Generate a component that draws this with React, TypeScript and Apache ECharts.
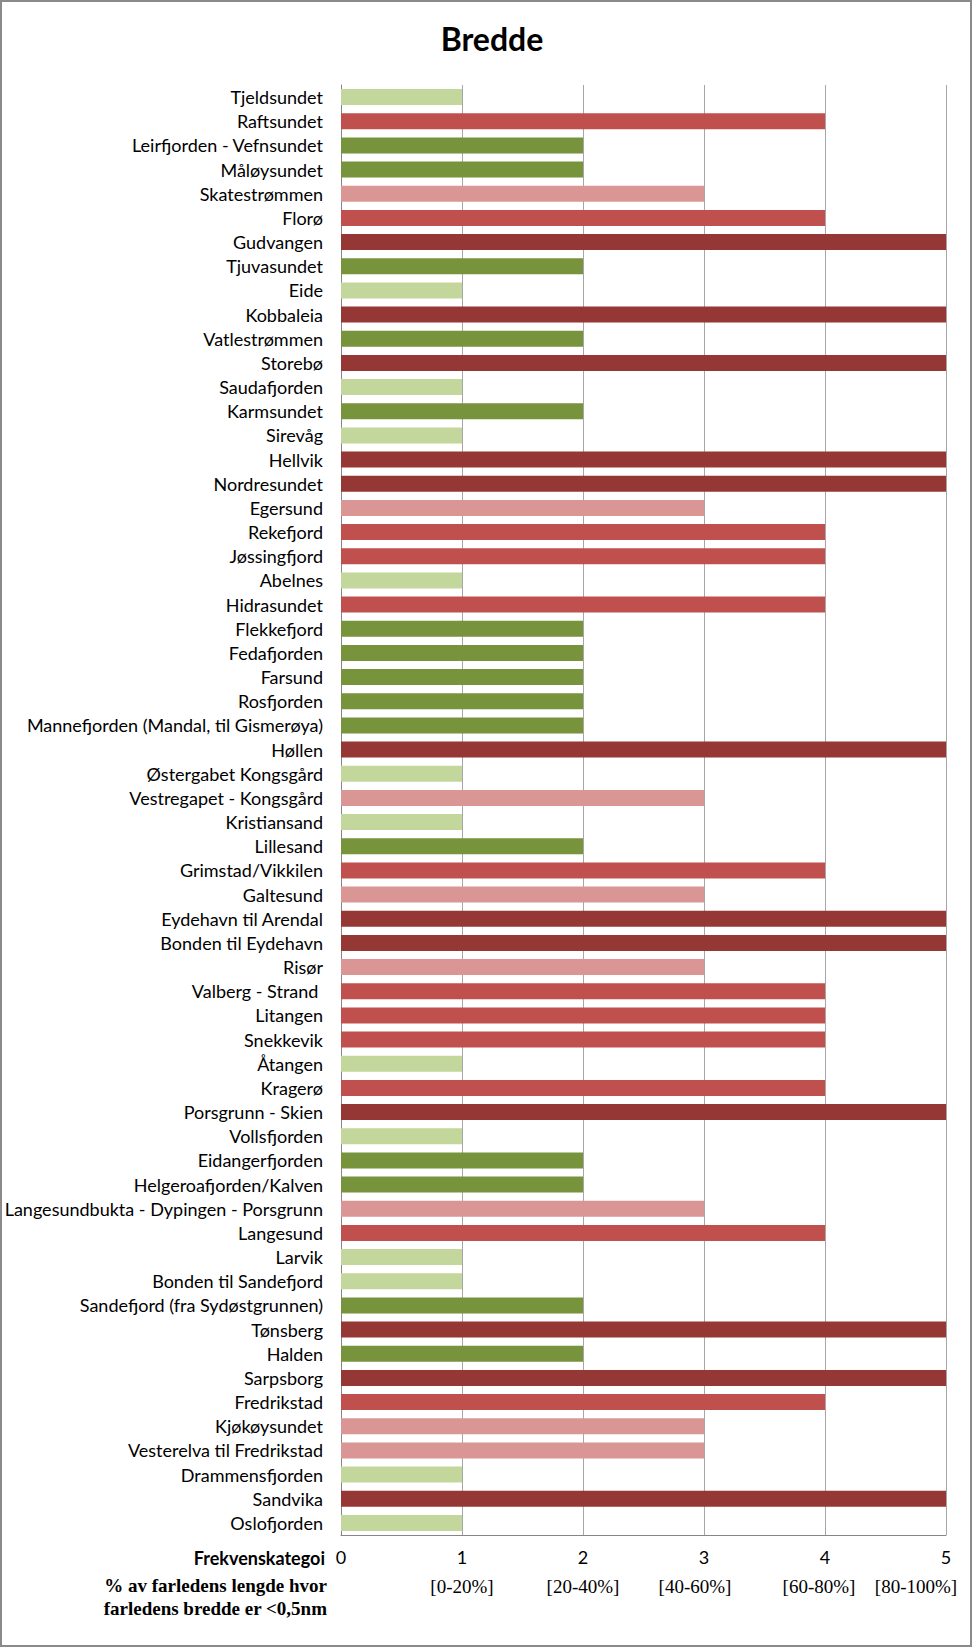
import React, { useEffect, useRef } from "react";
import * as echarts from "echarts";

const categories: string[] = [
  "Tjeldsundet", "Raftsundet", "Leirfjorden - Vefnsundet", "Måløysundet", "Skatestrømmen",
  "Florø", "Gudvangen", "Tjuvasundet", "Eide", "Kobbaleia",
  "Vatlestrømmen", "Storebø", "Saudafjorden", "Karmsundet", "Sirevåg",
  "Hellvik", "Nordresundet", "Egersund", "Rekefjord", "Jøssingfjord",
  "Abelnes", "Hidrasundet", "Flekkefjord", "Fedafjorden", "Farsund",
  "Rosfjorden", "Mannefjorden (Mandal, til Gismerøya)", "Høllen", "Østergabet Kongsgård", "Vestregapet - Kongsgård",
  "Kristiansand", "Lillesand", "Grimstad/Vikkilen", "Galtesund", "Eydehavn til Arendal",
  "Bonden til Eydehavn", "Risør", "Valberg - Strand ", "Litangen", "Snekkevik",
  "Åtangen", "Kragerø", "Porsgrunn - Skien", "Vollsfjorden", "Eidangerfjorden",
  "Helgeroafjorden/Kalven", "Langesundbukta - Dypingen - Porsgrunn", "Langesund", "Larvik", "Bonden til Sandefjord",
  "Sandefjord (fra Sydøstgrunnen)", "Tønsberg", "Halden", "Sarpsborg", "Fredrikstad",
  "Kjøkøysundet", "Vesterelva til Fredrikstad", "Drammensfjorden", "Sandvika", "Oslofjorden",
];

const values: number[] = [
  1, 4, 2, 2, 3,
  4, 5, 2, 1, 5,
  2, 5, 1, 2, 1,
  5, 5, 3, 4, 4,
  1, 4, 2, 2, 2,
  2, 2, 5, 1, 3,
  1, 2, 4, 3, 5,
  5, 3, 4, 4, 4,
  1, 4, 5, 1, 2,
  2, 3, 4, 1, 1,
  2, 5, 2, 5, 4,
  3, 3, 1, 5, 1,
];

const categoryColors: Record<number, string> = {
  1: "#c3d69b",
  2: "#77933c",
  3: "#d99694",
  4: "#c0504d",
  5: "#953735",
};

const rangeLabels: Record<number, string> = {
  1: "[0-20%]",
  2: "[20-40%]",
  3: "[40-60%]",
  4: "[60-80%]",
  5: "[80-100%]",
};

const titleText = "Bredde";
const axisTitle1 = "Frekvenskategoi";
const axisTitle2 = "% av farledens lengde hvor\nfarledens bredde er <0,5nm";

const SANS = "Lato, 'Noto Sans', sans-serif";
const SERIF = "'Liberation Serif', 'DejaVu Serif', serif";

export default function App() {
  const ref = useRef<HTMLDivElement>(null);
  useEffect(() => {
    if (!ref.current) return;
    const chart = echarts.init(ref.current, null, { renderer: "svg" });
    const pad: Record<number, number[]> = {
      1: [0, 0, 0, 0],
      2: [0, 0, 0, 0],
      3: [0, 18, 0, 0],
      4: [0, 12, 0, 0],
      5: [0, 60, 0, 0],
    };
    const rich: Record<string, any> = {};
    [1, 2, 3, 4, 5].forEach((k) => {
      rich["r" + k] = {
        fontFamily: SERIF,
        fontSize: 19,
        color: "#000",
        padding: pad[k],
      };
    });
    chart.setOption({
      animation: false,
      backgroundColor: "#fff",
      title: {
        text: titleText,
        left: 487,
        top: 17,
        textAlign: "center",
        textStyle: { fontFamily: SANS, fontWeight: "bold", fontSize: 32, color: "#000" },
      },
      grid: { left: 341, right: 27, top: 85, bottom: 113, containLabel: false },
      xAxis: [
        {
          type: "value",
          min: 0,
          max: 5,
          interval: 1,
          position: "bottom",
          axisLine: { show: true, lineStyle: { color: "#868686", width: 1 } },
          axisTick: { show: false },
          splitLine: { show: true, lineStyle: { color: "#a6a6a6", width: 1 } },
          axisLabel: { margin: 13, fontFamily: SANS, fontSize: 18, color: "#000" },
        },
        {
          type: "value",
          min: 0,
          max: 5,
          interval: 1,
          position: "bottom",
          offset: 30,
          axisLine: { show: false },
          axisTick: { show: false },
          splitLine: { show: false },
          axisLabel: {
            margin: 12,
            formatter: (v: number) => (rangeLabels[v] ? `{r${v}|${rangeLabels[v]}}` : ""),
            rich,
          },
        },
      ],
      yAxis: {
        type: "category",
        inverse: true,
        data: categories,
        axisLine: { show: true, lineStyle: { color: "#868686", width: 1 } },
        axisTick: { show: false },
        axisLabel: { margin: 18, fontFamily: SANS, fontSize: 18, color: "#000", interval: 0 },
      },
      series: [
        {
          type: "bar",
          xAxisIndex: 0,
          data: values.map((v) => ({ value: v, itemStyle: { color: categoryColors[v] } })),
          barWidth: 16,
        },
      ],
      graphic: [
        {
          type: "rect",
          shape: { x: 1, y: 1, width: 970, height: 1645 },
          style: { fill: "none", stroke: "#8a8a8a", lineWidth: 2 },
          silent: true,
        },
        {
          type: "text",
          x: 325,
          y: 1558,
          style: {
            text: axisTitle1,
            fontFamily: SANS,
            fontWeight: "bold",
            fontSize: 18,
            fill: "#000",
            textAlign: "right",
            textVerticalAlign: "middle",
          },
        },
        {
          type: "text",
          x: 327,
          y: 1597,
          style: {
            text: axisTitle2,
            fontFamily: SERIF,
            fontWeight: "bold",
            fontSize: 19,
            lineHeight: 23,
            fill: "#000",
            textAlign: "right",
            textVerticalAlign: "middle",
          },
        },
      ],
    });
    return () => chart.dispose();
  }, []);
  return (
    <div
      ref={ref}
      style={{ position: "absolute", left: 0, top: 0, width: 973, height: 1648 }}
    />
  );
}
